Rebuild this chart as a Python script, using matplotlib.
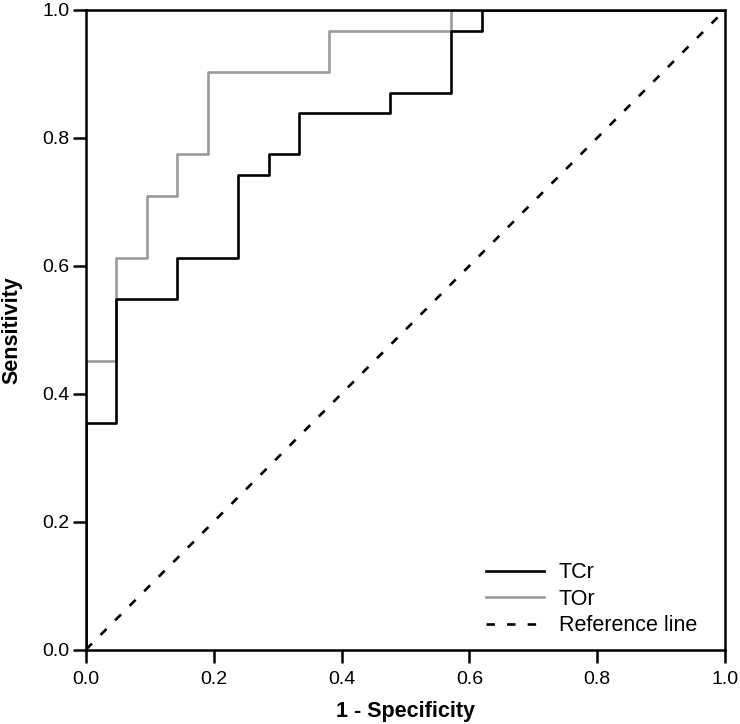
import numpy as np
import matplotlib.pyplot as plt

plt.rcParams['font.family'] = ['Liberation Sans', 'DejaVu Sans']

# ROC points (1 - specificity, sensitivity)
tcr_fpr = [0, 0, 1/21, 1/21, 3/21, 3/21, 5/21, 5/21, 6/21, 6/21, 7/21, 7/21,
           10/21, 10/21, 12/21, 12/21, 13/21, 13/21, 1]
tcr_tpr = [0, 11/31, 11/31, 17/31, 17/31, 19/31, 19/31, 23/31, 23/31, 24/31, 24/31, 26/31,
           26/31, 27/31, 27/31, 30/31, 30/31, 1, 1]
tor_fpr = [0, 0, 1/21, 1/21, 2/21, 2/21, 3/21, 3/21, 4/21, 4/21, 8/21, 8/21, 12/21, 12/21, 1]
tor_tpr = [0, 14/31, 14/31, 19/31, 19/31, 22/31, 22/31, 24/31, 24/31, 28/31, 28/31, 30/31,
           30/31, 1, 1]
ticks = [0.0, 0.2, 0.4, 0.6, 0.8, 1.0]

fig = plt.figure(figsize=(7.4, 7.24), dpi=100)
ax = fig.add_axes([0.1162, 0.1029, 0.8635, 0.8833])

ax.plot(tcr_fpr, tcr_tpr, color='black', lw=1.9, label='TCr', zorder=3)
ax.plot(tor_fpr, tor_tpr, color='#9b9b9b', lw=1.9, label='TOr', zorder=2)
ax.plot([0, 1], [0, 1], color='black', lw=1.9, linestyle=(0, (3.2, 4.6)), label='Reference line')

ax.set_xlim(0, 1)
ax.set_ylim(0, 1)
ax.set_xticks(ticks)
ax.set_yticks(ticks)
ax.set_xticklabels(['%.1f' % t for t in ticks])
ax.set_yticklabels(['%.1f' % t for t in ticks])
ax.tick_params(direction='out', length=9.5, width=1.8, labelsize=14)
ax.tick_params(axis='x', pad=6)
ax.tick_params(axis='y', pad=2.5)
for s in ax.spines.values():
    s.set_linewidth(1.8)

ax.set_xlabel('1 - Specificity', fontsize=15.5, fontweight='bold', va='top')
ax.set_ylabel('Sensitivity', fontsize=15.5, fontweight='bold')
ax.xaxis.set_label_coords(0.5, -0.081)
ax.yaxis.set_label_coords(-0.1, 0.5)

ax.legend(loc='lower right', frameon=False, fontsize=15.5, handlelength=2.65,
          handletextpad=0.7, borderpad=0, borderaxespad=0, labelspacing=0.25,
          bbox_to_anchor=(0.956, 0.021))

fig.savefig('out.png', dpi=100)
